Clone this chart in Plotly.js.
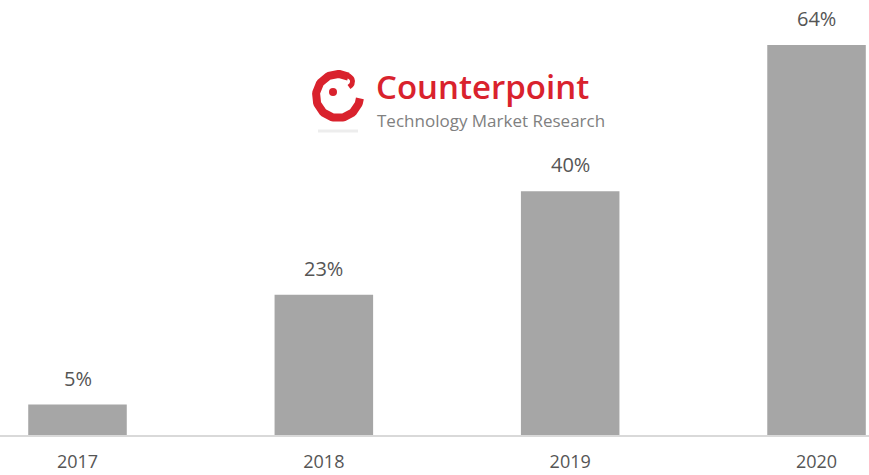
<!DOCTYPE html>
<html>
<head>
<meta charset="utf-8">
<script src="https://cdn.plot.ly/plotly-3.0.1.min.js"></script>
<style>
  html, body { margin: 0; padding: 0; background: #ffffff; }
  #chart { width: 869px; height: 475px; }
</style>
</head>
<body>
<div id="chart"></div>
<script>
// Share by year
const years = ['2017', '2018', '2019', '2020'];
const shares = [5, 23, 40, 64];

const BAR_COLOR = '#a6a6a6';
const TEXT_COLOR = '#555555';
const LOGO_RED = '#d9222d';

// Logo ring, drawn on a pixel-like overlay axis (x: 0..869, y: 0..435 top-down)
const ringCx = 338, ringCy = 96, ringR = 22;
const ringX = [], ringY = [];
for (let a = 62; a <= 357; a += 4) {
  const t = a * Math.PI / 180;
  ringX.push(ringCx + ringR * Math.cos(t));
  ringY.push(ringCy - ringR * Math.sin(t));
}
// small hook curling inward at the top-right end of the ring
const hookX = [ringCx + 9, ringCx + 14, ringCx + 14, ringCx + 11];
const hookY = [ringCy - 21, ringCy - 17, ringCy - 12, ringCy - 9];

const traces = [
  {
    type: 'bar',
    x: years,
    y: shares,
    width: 0.4,
    marker: { color: BAR_COLOR },
    hoverinfo: 'skip'
  },
  {
    type: 'scatter', mode: 'lines',
    x: [318, 358], y: [131, 131],
    xaxis: 'x2', yaxis: 'y2',
    line: { color: 'rgba(0,0,0,0.07)', width: 3 },
    hoverinfo: 'skip'
  },
  {
    type: 'scatter', mode: 'lines',
    x: ringX, y: ringY,
    xaxis: 'x2', yaxis: 'y2',
    line: { color: LOGO_RED, width: 8 },
    hoverinfo: 'skip'
  },
  {
    type: 'scatter', mode: 'lines',
    x: hookX, y: hookY,
    xaxis: 'x2', yaxis: 'y2',
    line: { color: LOGO_RED, width: 5, shape: 'spline' },
    hoverinfo: 'skip'
  },
  {
    type: 'scatter', mode: 'markers',
    x: [ringCx - 5], y: [ringCy - 4],
    xaxis: 'x2', yaxis: 'y2',
    marker: { color: LOGO_RED, size: 8 },
    hoverinfo: 'skip'
  }
];

// Value labels above each bar (category axis positions by index)
const valueLabels = years.map((yr, i) => ({
  x: i, y: shares[i], xref: 'x', yref: 'y',
  text: shares[i] + '%',
  showarrow: false,
  yanchor: 'bottom',
  yshift: 11,
  font: { family: 'Open Sans, sans-serif', size: 20, color: TEXT_COLOR }
}));

const logoText = [
  {
    x: 374, y: 86, xref: 'x2', yref: 'y2',
    text: 'Counterpoint', showarrow: false,
    xanchor: 'left', yanchor: 'middle',
    font: { family: 'Open Sans, sans-serif', size: 33, color: LOGO_RED, weight: 600 }
  },
  {
    x: 375, y: 120, xref: 'x2', yref: 'y2',
    text: 'Technology Market Research', showarrow: false,
    xanchor: 'left', yanchor: 'middle',
    font: { family: 'Open Sans, sans-serif', size: 17, color: '#808080' }
  }
];

const layout = {
  width: 869,
  height: 475,
  margin: { l: 0, r: 0, t: 0, b: 40 },
  paper_bgcolor: '#ffffff',
  plot_bgcolor: '#ffffff',
  showlegend: false,
  xaxis: {
    type: 'category',
    range: [-0.3146, 3.213],
    showgrid: false,
    zeroline: false,
    showline: true,
    linecolor: '#d9d9d9',
    linewidth: 2,
    ticks: '',
    ticklabelstandoff: 9,
    tickfont: { family: 'Open Sans, sans-serif', size: 18, color: TEXT_COLOR },
    fixedrange: true
  },
  yaxis: {
    range: [0, 71.4],
    visible: false,
    showgrid: false,
    zeroline: false,
    fixedrange: true
  },
  xaxis2: { overlaying: 'x', range: [0, 869], visible: false, fixedrange: true },
  yaxis2: { overlaying: 'y', range: [435, 0], visible: false, fixedrange: true },
  annotations: valueLabels.concat(logoText)
};

Plotly.newPlot('chart', traces, layout, { displayModeBar: false, staticPlot: true });
</script>
</body>
</html>
